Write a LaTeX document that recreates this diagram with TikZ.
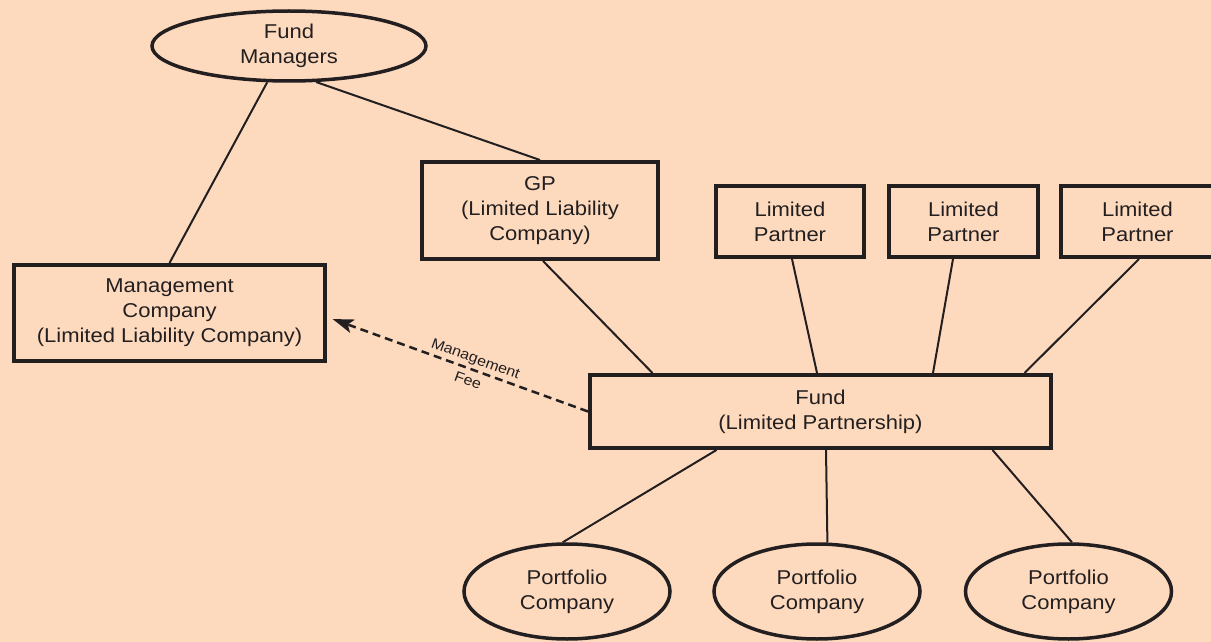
\documentclass[tikz,border=0pt]{standalone}
\usepackage{fontspec}
\setmainfont{Liberation Sans}[FakeStretch=1.1]
\usetikzlibrary{shapes.geometric,arrows.meta,calc}
\definecolor{bg}{RGB}{253,218,190}
\definecolor{ink}{RGB}{35,31,32}
\begin{document}
\begin{tikzpicture}[x=1pt,y=-1pt,
  every node/.style={text=ink, align=center, font=\fontsize{20}{25}\selectfont},
  box/.style={draw=ink, line width=4pt, rectangle, inner sep=0pt},
  oval/.style={draw=ink, line width=3.5pt, ellipse, inner sep=0pt},
  link/.style={draw=ink, line width=2pt},
  fee/.style={draw=ink, line width=2.5pt, dash pattern=on 8pt off 5pt,
    -{Stealth[length=21pt,width=14pt,inset=5pt]}}]
\fill[bg] (0,0) rectangle (1211,642);
\useasboundingbox (0,0) rectangle (1211,642);

\node[oval, minimum width=274pt, minimum height=70pt] (fm) at (289,46) {Fund\\Managers};
\node[box, minimum width=236pt, minimum height=97pt] (gp) at (540,210.5) {GP\\(Limited Liability\\Company)};
\node[box, minimum width=148pt, minimum height=71pt] (lp1) at (790,221.5) {Limited\\Partner};
\node[box, minimum width=149pt, minimum height=71pt] (lp2) at (963.5,221.5) {Limited\\Partner};
\node[box, minimum width=153pt, minimum height=71pt] (lp3) at (1137.5,221.5) {Limited\\Partner};
\node[box, minimum width=311pt, minimum height=96pt] (mc) at (169.5,313) {Management\\Company\\(Limited Liability Company)};
\node[box, minimum width=461pt, minimum height=73pt] (fund) at (820.5,411.5) {Fund\\(Limited Partnership)};
\node[oval, minimum width=206pt, minimum height=95pt] (p1) at (567,591.5) {Portfolio\\Company};
\node[oval, minimum width=206pt, minimum height=95pt] (p2) at (817,591.5) {Portfolio\\Company};
\node[oval, minimum width=206pt, minimum height=95pt] (p3) at (1068.5,591.5) {Portfolio\\Company};

\draw[link] (fm.-121) -- (mc.north);
\draw[link] (fm.-53) -- (gp.north);
\draw[link] ($(gp.south)+(3,0)$) -- ($(fund.north)+(-168,0)$);
\draw[link] ($(lp1.south)+(2,0)$) -- ($(fund.north)+(-3.5,0)$);
\draw[link] ($(lp2.south)+(-10.5,0)$) -- ($(fund.north)+(112.5,0)$);
\draw[link] ($(lp3.south)+(1.5,0)$) -- ($(fund.north)+(204,0)$);
\draw[link] ($(fund.south)+(-104,0)$) -- (p1.95);
\draw[link] ($(fund.south)+(5.5,0)$) -- (p2.78);
\draw[link] ($(fund.south)+(172,0)$) -- (p3.86);
\draw[fee, shorten >=6pt] (fund.west) -- ($(mc.east)+(0,4)$)
  node[sloped, pos=0.445, font=\fontsize{14.5}{23}\selectfont] (feelbl) {Management\\Fee};
\end{tikzpicture}
\end{document}
